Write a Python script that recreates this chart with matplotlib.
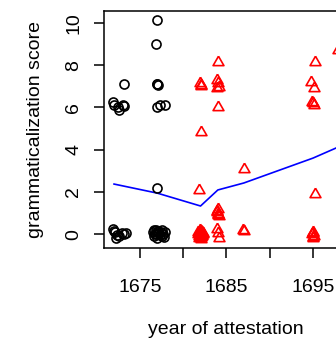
import matplotlib
matplotlib.use("Agg")
import matplotlib.pyplot as plt
import numpy as np

plt.rcParams["font.family"] = ["Liberation Sans", "DejaVu Sans"]

# earlier attestations (circles)
early_year = [
    1673.2, 1671.9, 1672.0, 1672.5, 1672.6, 1673.0, 1673.2,
    1671.9, 1672.1, 1672.4, 1672.9, 1673.2, 1673.4, 1672.0, 1672.6, 1672.2,
    1677.0, 1676.85, 1677.0, 1677.1, 1676.95, 1677.0, 1677.3, 1677.9, 1677.0,
    1676.5, 1676.6, 1676.8, 1676.9, 1677.0, 1677.1, 1677.2, 1677.3,
    1677.4, 1677.6, 1677.8, 1677.9, 1676.7, 1677.5, 1676.6, 1677.0, 1677.7,
]
early_score = [
    7.1, 6.25, 6.1, 6.0, 5.9, 6.1, 6.05,
    0.25, 0.1, -0.05, 0.05, 0.0, 0.05, 0.15, -0.1, -0.2,
    10.16, 9.0, 7.1, 7.05, 7.1, 6.0, 6.1, 6.1, 2.2,
    0.1, -0.1, 0.2, 0.0, -0.2, 0.15, 0.05, -0.05,
    0.1, 0.2, -0.15, 0.1, 0.0, -0.1, 0.2, 0.1, 0.0,
]

# later attestations (triangles)
late_year = [
    1681.9, 1682.0, 1682.1, 1682.0, 1681.8,
    1681.7, 1681.8, 1681.9, 1682.0, 1682.1, 1682.2, 1682.3, 1681.9, 1682.1, 1682.0,
    1681.75, 1681.85, 1681.95, 1682.05, 1682.15, 1682.25, 1681.8, 1682.0, 1682.2,
    1684.0, 1683.9, 1684.0, 1684.1, 1683.95, 1684.05,
    1684.0, 1683.9, 1684.0, 1684.1, 1683.95, 1684.05, 1683.9, 1684.0, 1684.1,
    1687.05, 1686.9, 1687.0,
    1695.2, 1694.8, 1695.1, 1694.9, 1695.0, 1695.1, 1695.2,
    1695.0, 1694.9, 1695.1, 1695.0, 1694.95, 1695.05,
    1697.9,
]
late_score = [
    7.15, 7.05, 7.0, 4.85, 2.1,
    0.1, -0.1, 0.2, 0.0, -0.15, 0.1, 0.05, -0.05, 0.15, -0.24,
    0.0, 0.05, -0.1, 0.1, -0.05, 0.0, -0.2, -0.15, -0.1,
    8.15, 7.3, 7.15, 6.95, 6.9, 6.0,
    1.2, 1.1, 0.95, 0.85, 1.05, 0.9, 0.25, 0.05, -0.2,
    3.07, 0.2, 0.15,
    8.15, 7.2, 6.9, 6.25, 6.2, 6.1, 1.9,
    0.1, 0.0, -0.1, -0.2, 0.05, -0.15,
    8.7,
]

# mean score per year
mean_year = [1672.0, 1677.0, 1682.0, 1684.0, 1687.0, 1695.0, 1697.9]
mean_score = [2.37, 1.94, 1.33, 2.09, 2.42, 3.6, 4.12]

W, H = 336, 342
fig = plt.figure(figsize=(W / 100, H / 100), dpi=100)
ax = fig.add_axes([104 / W, 94 / H, 243 / W, 237 / H])

ax.plot(mean_year, mean_score, color="#0000FF", linewidth=1.2, zorder=2)
ax.plot(early_year, early_score, linestyle="none", marker="o", markersize=6.5,
        markerfacecolor="none", markeredgecolor="black", markeredgewidth=1.2, zorder=3)
tri = [(0, 1), (-0.866, -0.5), (0.866, -0.5), (0, 1)]
ax.plot(late_year, late_score, linestyle="none", marker=tri, markersize=9.0,
        markerfacecolor="none", markeredgecolor="#FF0000", markeredgewidth=1.2, zorder=3)

ax.set_xlim(1670.84, 1698.93)
ax.set_ylim(-0.66, 10.57)

ax.set_xticks([1675, 1680, 1685, 1690, 1695])
ax.set_xticklabels(["1675", "", "1685", "", "1695"])
ax.set_yticks([0, 2, 4, 6, 8, 10])
ax.set_yticklabels(["0", "2", "4", "6", "8", "10"], rotation=90, va="center")

ax.tick_params(axis="both", direction="out", length=7.5, width=1.1, labelsize=14)
ax.tick_params(axis="x", pad=15)
ax.tick_params(axis="y", pad=8)
for sp in ax.spines.values():
    sp.set_linewidth(1.1)

fig.text(225.5 / W, 1 - 330 / H, "year of attestation", ha="center", va="center", fontsize=14)
fig.text(36 / W, 1 - 129.5 / H, "grammaticalization score", ha="center", va="center",
         rotation=90, fontsize=14)

fig.savefig("out.png", dpi=100)
